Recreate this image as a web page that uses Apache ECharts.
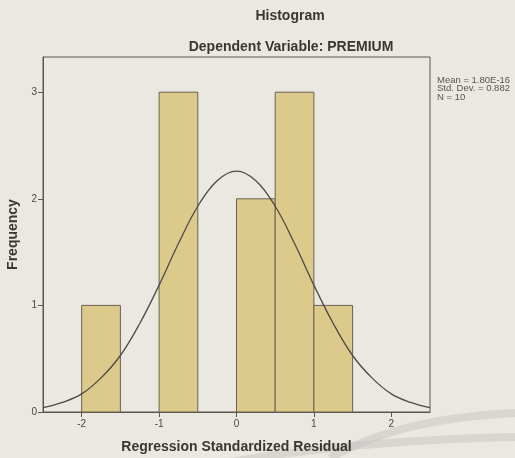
<!DOCTYPE html>
<html>
<head>
<meta charset="utf-8">
<script src="https://cdn.jsdelivr.net/npm/echarts@6/dist/echarts.min.js"></script>
<style>
  html, body { margin: 0; padding: 0; background: #ebe8e2; }
  #chart { width: 515px; height: 458px; }
</style>
</head>
<body>
<div id="chart"></div>
<script>
// histogram bins (left edge) and counts
const binStarts = [-2, -1, 0, 0.5, 1];
const binWidth = 0.5;
const counts = [1, 3, 2, 3, 1];

// normal curve
const curveX = [-2.5, -2.25, -2, -1.75, -1.5, -1.25, -1, -0.75, -0.5, -0.25, 0, 0.25, 0.5, 0.75, 1, 1.25, 1.5, 1.75, 2, 2.25, 2.5];
const curveY = [0.04, 0.09, 0.17, 0.32, 0.53, 0.83, 1.19, 1.58, 1.93, 2.17, 2.26, 2.17, 1.93, 1.58, 1.19, 0.83, 0.53, 0.32, 0.17, 0.09, 0.04];

const xTicks = [-2, -1, 0, 1, 2];
const yTicks = [0, 1, 2, 3];
const statsLines = ['Mean = 1.80E-16', 'Std. Dev. = 0.882', 'N = 10'];

const ink = '#5a554e';
const font = 'Liberation Sans, Arial, sans-serif';

const chart = echarts.init(document.getElementById('chart'));

// faint scanner bands in the lower right corner
const bands = [
  { shape: { x1: 330, y1: 458, cpx1: 400, cpy1: 418, x2: 515, y2: 413 } },
  { shape: { x1: 230, y1: 462, cpx1: 360, cpy1: 440, x2: 515, y2: 437 } }
].map(b => ({
  type: 'bezierCurve', silent: true, z: -10,
  shape: b.shape,
  style: { stroke: 'rgba(200,198,194,0.55)', lineWidth: 8, fill: null }
}));

chart.setOption({
  animation: false,
  backgroundColor: '#ebe8e2',
  title: [
    { text: 'Histogram', left: 285, top: 4, textAlign: 'center',
      textStyle: { fontFamily: font, fontSize: 14, fontWeight: 'bold', color: '#3a3632' } },
    { text: 'Dependent Variable: PREMIUM', left: 286, top: 35, textAlign: 'center',
      textStyle: { fontFamily: font, fontSize: 14, fontWeight: 'bold', color: '#3a3632' } }
  ],
  grid: {
    left: 43, right: 85, top: 57, bottom: 46,
    outerBoundsMode: 'none', containLabel: false,
    show: true, borderColor: ink, borderWidth: 1, backgroundColor: 'transparent'
  },
  xAxis: {
    type: 'value', min: -2.5, max: 2.5,
    name: 'Regression Standardized Residual', nameLocation: 'middle', nameGap: 28,
    nameTextStyle: { fontFamily: font, fontSize: 14, fontWeight: 'bold', color: '#3a3632' },
    axisLine: { onZero: false, lineStyle: { color: ink, width: 1 } },
    axisTick: { show: true, length: 5, customValues: xTicks, lineStyle: { color: ink } },
    axisLabel: { customValues: xTicks, fontFamily: font, fontSize: 10, color: '#4a4640', margin: 7 },
    splitLine: { show: false }
  },
  yAxis: {
    type: 'value', min: 0, max: 3.33,
    name: 'Frequency', nameLocation: 'middle', nameGap: 23,
    nameTextStyle: { fontFamily: font, fontSize: 14, fontWeight: 'bold', color: '#3a3632' },
    axisLine: { show: true, onZero: false, lineStyle: { color: ink, width: 1 } },
    axisTick: { show: true, length: 5, customValues: yTicks, lineStyle: { color: ink } },
    axisLabel: { customValues: yTicks, fontFamily: font, fontSize: 10, color: '#4a4640', margin: 6 },
    splitLine: { show: false }
  },
  graphic: bands.concat(statsLines.map((t, i) => ({
    type: 'text', left: 437, top: 75 + i * 8.7,
    style: { text: t, fontFamily: font, fontSize: 9.5, fill: '#555' }
  }))),
  series: [
    {
      type: 'custom',
      data: binStarts.map((s, i) => [s, s + binWidth, counts[i]]),
      renderItem: (params, api) => {
        const p0 = api.coord([api.value(0), 0]);
        const p1 = api.coord([api.value(1), api.value(2)]);
        return {
          type: 'rect',
          shape: { x: p0[0], y: p1[1], width: p1[0] - p0[0], height: p0[1] - p1[1] },
          style: { fill: '#dbca8c', stroke: '#6b6252', lineWidth: 1 }
        };
      },
      z: 2
    },
    {
      type: 'line',
      data: curveX.map((x, i) => [x, curveY[i]]),
      smooth: 0.4, showSymbol: false,
      lineStyle: { color: '#4e4a45', width: 1.3 },
      z: 3
    }
  ]
});
</script>
</body>
</html>
